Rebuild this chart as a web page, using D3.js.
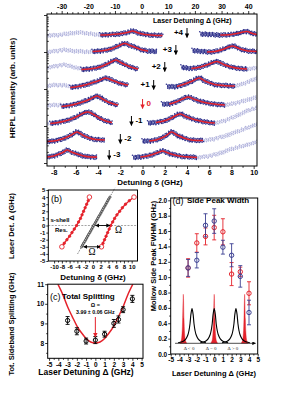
<!DOCTYPE html>
<html>
<head>
<meta charset="utf-8">
<script src="https://cdn.jsdelivr.net/npm/d3@7"></script>
<style>
  body { margin: 0; background: #fff; }
</style>
</head>
<body>
<svg id="fig" width="307" height="398"></svg>
<script>
// ---------- panel (a): HRPL spectra, one row per laser detuning ----------
var rowDet = [4, 3, 2, 1, 0, -1, -2, -3];
var rowLabels = ["+4", "+3", "+2", "+1", "0", "-1", "-2", "-3"];
var rowOffset = [130, 113, 96, 78, 59, 42, 24, 8];

// [detuning delta (GHz), intensity above row offset (arb.)]
var lightLeft = [
  [[-8.6, 0.5], [-7.6, 1], [-6.6, 2.5], [-5.6, 3.5], [-4.6, 2], [-3.8, 1]],
  [[-8.6, 1], [-7.8, 2], [-7, 3], [-6.2, 2], [-5.4, 1.5], [-4.5, 1]],
  [[-8.6, 2], [-7.8, 4], [-7, 5], [-6.2, 3], [-5.5, 1]],
  [[-8.6, 2], [-7.8, 3], [-7, 2.5], [-6.5, 2]],
  [[-8.6, 1.5], [-7.9, 2], [-7.3, 2]],
  [[-8.6, 0.5], [-8.3, 0.5]],
  [],
  []
];
var darkLeft = [
  [[-3.8, 1], [-3.0, 1.3], [-2.2, 2], [-1.6, 3], [-1.2, 4], [-0.9, 5], [-0.5, 3.5], [0, 2], [0.5, 1.2], [1.0, 0.8], [1.8, 0.5]],
  [[-4.5, 1.5], [-3.8, 2], [-3.2, 3], [-2.6, 5], [-2.1, 7.5], [-1.6, 9.5], [-1.1, 7.5], [-0.5, 5], [0, 3], [0.5, 2], [1.3, 1.5]],
  [[-5.5, 0.5], [-4.8, 1], [-4.2, 2], [-3.6, 4], [-3.0, 7], [-2.4, 10], [-1.9, 7], [-1.3, 4], [-0.8, 2], [-0.4, 1]],
  [[-6.5, 0.5], [-5.8, 1.5], [-5.2, 3], [-4.6, 5], [-3.9, 7.5], [-3.3, 10], [-2.7, 7.5], [-2.1, 5], [-1.6, 3.5], [-1.3, 3]],
  [[-7.3, 0.5], [-6.6, 1.5], [-6, 3], [-5.4, 5], [-4.7, 8], [-4.1, 11], [-3.6, 8], [-3.1, 5], [-2.6, 3], [-2.2, 2]],
  [[-8.3, 0.5], [-7.6, 1.5], [-7, 3], [-6.4, 5], [-5.8, 8], [-5.3, 11], [-4.9, 12], [-4.4, 9.5], [-3.9, 6], [-3.3, 3], [-2.75, 1.5]],
  [[-8.6, 0.5], [-8, 1], [-7.4, 2.5], [-6.9, 4.5], [-6.4, 7], [-5.9, 10], [-5.4, 7], [-4.8, 4], [-4.2, 2.5], [-3.4, 2]],
  [[-8.6, 1], [-8, 2], [-7.5, 4], [-7.1, 6], [-6.8, 8], [-6.4, 6], [-5.9, 4], [-5.3, 2], [-4.7, 1], [-4.1, 1]]
];
var darkRight = [
  [[5.2, 2], [6, 1.5], [7, 1], [8, 1.5], [8.7, 3], [9.4, 4.5], [9.9, 2.5], [10.3, 1.5]],
  [[4.5, 2.5], [5.3, 1.5], [5.8, 1], [6.5, 1.5], [7.2, 3.5], [8.1, 7], [8.8, 4], [9.5, 2], [10.3, 1.5]],
  [[3.5, 3], [4.4, 1.5], [5.2, 3], [5.9, 5.5], [6.7, 8.5], [7.3, 5.5], [8, 3], [8.7, 1.5], [9.4, 1]],
  [[2.2, 1.5], [3.1, 1.5], [3.8, 4], [4.5, 7], [5.1, 10], [5.7, 6.5], [6.5, 3.5], [7.3, 2.5], [8.3, 2]],
  [[1.75, 3], [2.4, 3], [3.0, 5], [3.6, 8], [4.1, 10], [4.7, 7.5], [5.4, 5], [6.1, 3.5], [6.8, 2.5], [7.4, 2]],
  [[0.5, 1], [1.2, 1.5], [1.9, 3], [2.5, 5.5], [3.0, 8.5], [3.4, 10], [3.9, 7.5], [4.5, 5], [5.2, 3], [5.9, 1.5], [6.5, 1]],
  [[0, 1], [0.6, 1], [1.2, 2], [1.8, 4.5], [2.2, 7], [2.6, 10], [3.1, 7], [3.7, 4], [4.4, 2], [5.45, 1.5]],
  [[-0.85, 0.5], [-0.2, 1], [0.4, 2], [0.9, 3.5], [1.4, 5.5], [1.8, 7], [2.3, 5], [2.9, 3], [3.6, 1.5], [4.3, 1], [4.9, 0.5]]
];
var lightRight = [
  [],
  [],
  [[9.4, 1], [10.3, 2]],
  [[8.3, 2], [9, 4], [9.7, 7], [10.3, 10]],
  [[7.4, 2], [8.4, 4], [9.4, 7], [10.3, 10]],
  [[6.5, 1], [7.3, 3], [8, 6], [8.8, 10], [9.6, 14], [10.3, 16]],
  [[5.45, 1.5], [6.4, 3], [7.4, 6], [8.4, 10], [9.4, 14], [10.3, 18]],
  [[4.9, 0.5], [6, 2], [7, 5], [8, 9], [9, 12], [10.3, 16]]
];
// delta window covered by each red fit
var fitLeft = [[-3.8, 1.8], [-4.5, 0.5], [-5.5, -0.4], [-6.5, -1.3], [-7.3, -2.2], [-8.3, -2.75], [-8.6, -3.4], [-8.6, -4.1]];
var fitRight = [[7, 10.3], [5.8, 10.3], [4.4, 9.4], [3.1, 8.3], [2.4, 7.4], [1.2, 6.5], [0.6, 5.45], [-0.2, 4.9]];

var aBottomTicks = [-8, -6, -4, -2, 0, 2, 4, 6, 8, 10];
var aBottomMinor = [-7, -5, -3, -1, 1, 3, 5, 7, 9];
var aTopTicks = [-30, -20, -10, 0, 10, 20, 30, 40];

// ---------- panel (b): peak positions ----------
var bDet = [-3, -2.5, -2, -1.5, -1, -0.5, 0, 0.5, 1, 1.5, 2, 2.5, 3, 3.5, 4];
var bLeft = [-8.0, -7.4, -6.7, -6.0, -5.4, -4.8, -4.2, -3.7, -3.2, -2.8, -2.4, -2.0, -1.6, -1.2, -0.9];
var bRight = [2.2, 2.6, 3.0, 3.4, 3.8, 4.2, 4.6, 5.1, 5.6, 6.2, 6.9, 7.6, 8.4, 9.4, 10.6];
var bLaserDet = [-3, -2.75, -2.5, -2.25, -2, -1.75, -1.5, -1.25, -1, -0.75, -0.5, -0.25, 0, 0.25, 0.5,
  0.75, 1, 1.25, 1.5, 1.75, 2, 2.25, 2.5, 2.75, 3, 3.25, 3.5, 3.75, 4];
var bLaserPos = [-2.9, -2.65, -2.4, -2.1, -1.85, -1.6, -1.35, -1.1, -0.8, -0.55, -0.3, -0.05, 0.2, 0.5, 0.75,
  1.0, 1.25, 1.5, 1.8, 2.05, 2.3, 2.55, 2.8, 3.1, 3.35, 3.6, 3.85, 4.1, 4.4];
var bGuide = [[-3.95, -4], [5.7, 5.3]];
var bXTicks = [-10, -8, -6, -4, -2, 0, 2, 4, 6, 8, 10];
var bYTicks = [-5, -4, -3, -2, -1, 0, 1, 2, 3, 4, 5];

// ---------- panel (c): total splitting ----------
var cDet = [-3, -2, -1, 0, 1, 2, 2.5, 3, 4];
var cSplit = [9.15, 8.6, 8.1, 8.15, 8.45, 9.0, 9.2, 9.7, 10.25];
var cErr = [0.2, 0.18, 0.15, 0.18, 0.15, 0.2, 0.18, 0.15, 0.18];
var cFitDet = [-4.05, -3.5, -3, -2.5, -2, -1.5, -1, -0.5, 0, 0.5, 1, 1.5, 2, 2.5, 3, 3.5, 4.05];
var cFitVal = [11.0, 10.45, 9.85, 9.35, 8.88, 8.52, 8.23, 8.05, 8.0, 8.05, 8.23, 8.52, 8.88, 9.35, 9.85, 10.45, 11.0];
var cXTicks = [-5, -4, -3, -2, -1, 0, 1, 2, 3, 4, 5];
var cYTicks = [8, 9, 10, 11];

// ---------- panel (d): side peak width ----------
var dDet = [-3, -2, -1, 0, 1, 2, 3, 4];
var dBlue = [1.12, 1.22, 1.675, 1.73, 1.39, 1.285, 1.01, 0.54];
var dBlueErr = [0.11, 0.1, 0.15, 0.16, 0.09, 0.15, 0.14, 0.16];
var dRed = [1.12, 1.445, 1.53, 1.645, 1.59, 1.04, 1.07, 0.79];
var dRedErr = [0.12, 0.12, 0.11, 0.16, 0.17, 0.15, 0.06, 0.15];
var dYTicks = [0, 0.2, 0.4, 0.6, 0.8, 1.0, 1.2, 1.4, 1.6, 1.8, 2.0];
// inset sketch: peak centres and line shapes
var insetBlackPos = [-2.55, 0, 2.5];
var insetRedPos = [-3.55, 0, 3.5];
var insetLabels = ["\u0394 < 0", "\u0394 = 0", "\u0394 > 0"];
var blackShapeX = [-1.6, -1.0, -0.7, -0.46, -0.35, -0.23, -0.12, 0, 0.12, 0.23, 0.35, 0.46, 0.7, 1.0, 1.6];
var blackShapeY = [0.01, 0.04, 0.09, 0.18, 0.26, 0.4, 0.6, 0.71, 0.6, 0.4, 0.26, 0.18, 0.09, 0.04, 0.01];
var redShapeX = [-0.4, -0.25, -0.15, -0.08, 0, 0.08, 0.15, 0.25, 0.4];
var redShapeY = [0, 0.05, 0.2, 0.5, 1, 0.5, 0.2, 0.05, 0];

var FONT = "'Liberation Sans', Arial, sans-serif";
var SERIF = "'Liberation Serif', 'DejaVu Serif', serif";
var NAVY = "#2f318c", LAV = "#b0b2dc", RED = "#e4222b", BLUE = "#3c4092";

var svg = d3.select("#fig");
var defs = svg.append("defs");

var addMarker = function (id, color) {
  defs.append("marker")
    .attr("id", id)
    .attr("viewBox", "0 0 10 10")
    .attr("refX", 9).attr("refY", 5)
    .attr("markerWidth", 4.5).attr("markerHeight", 4.5)
    .attr("orient", "auto-start-reverse")
    .append("path")
    .attr("d", "M0,0L10,5L0,10z")
    .attr("fill", color);
};
addMarker("ahK", "#000");
addMarker("ahR", RED);

var label = function (txt, x, y, opts) {
  opts = opts || {};
  var t = svg.append("text")
    .text(txt)
    .attr("x", x).attr("y", y)
    .attr("font-family", opts.family || FONT)
    .attr("font-size", opts.size || 8)
    .attr("font-weight", opts.weight || "bold")
    .attr("fill", opts.color || "#000")
    .attr("text-anchor", opts.anchor || "start");
  if (opts.rotate) {
    t.attr("x", 0).attr("y", 0)
      .attr("transform", "translate(" + x + "," + y + ") rotate(-90)");
  }
  return t;
};

var addAxis = function (axis, x, y, fs) {
  var g = svg.append("g")
    .attr("transform", "translate(" + x + "," + y + ")")
    .call(axis);
  g.select(".domain").remove();
  g.selectAll(".tick line").attr("stroke", "#000").attr("stroke-width", 0.8);
  g.selectAll(".tick text")
    .attr("font-size", fs || 6.5)
    .attr("font-weight", "bold")
    .attr("font-family", FONT)
    .attr("fill", "#000");
  return g;
};

var frame = function (x0, y0, x1, y1) {
  svg.append("rect")
    .attr("x", x0).attr("y", y0)
    .attr("width", x1 - x0).attr("height", y1 - y0)
    .attr("fill", "none").attr("stroke", "#000").attr("stroke-width", 1);
};

var plain = function (d) { return String(d); };

// ================= panel (a) =================
var xA = d3.scaleLinear().domain([-8.6, 10.3]).range([47, 257]);
var xTop = d3.scaleLinear().domain([-35.5, 43.3]).range([47, 257]);
var yA = d3.scaleLinear().domain([0, 152]).range([166, 14]);
var yLog = d3.scaleLog().domain([0.83, 10650]).range([166, 14]);

defs.append("clipPath").attr("id", "clipA")
  .append("rect").attr("x", 47).attr("y", 14).attr("width", 210).attr("height", 152);

var gA = svg.append("g").attr("clip-path", "url(#clipA)");

// draw the measured trace as a band of small dots (fixed golden-ratio spread, no randomness)
var dotBand = function (d, color, step, r, halfWidth) {
  var p = gA.append("path").attr("d", d).attr("fill", "none");
  var node = p.node(), len = node.getTotalLength();
  var k = 0;
  for (var s = 0; s <= len; s += step) {
    var pt = node.getPointAtLength(s);
    var fy = (k * 0.6180339887) % 1, fx = (k * 0.7548776662) % 1;
    gA.append("circle")
      .attr("cx", pt.x + (fx - 0.5) * 1.2)
      .attr("cy", pt.y + (fy - 0.5) * 2 * halfWidth)
      .attr("r", r)
      .attr("fill", color);
    k++;
  }
  p.remove();
};

rowDet.forEach(function (det, i) {
  var off = rowOffset[i];
  var line = d3.line()
    .x(function (d) { return xA(d[0]); })
    .y(function (d) { return yA(off + d[1]); })
    .curve(d3.curveCatmullRom);

  [lightLeft[i], lightRight[i]].forEach(function (seg) {
    if (seg.length < 2) return;
    dotBand(line(seg), LAV, 0.5, 0.7, 2.0);
  });

  [darkLeft[i], darkRight[i]].forEach(function (seg) {
    dotBand(line(seg), NAVY, 0.35, 0.8, 2.3);
  });

  [[darkLeft[i], fitLeft[i]], [darkRight[i], fitRight[i]]].forEach(function (p) {
    var pts = p[0].filter(function (d) {
      return d[0] >= p[1][0] - 1e-6 && d[0] <= p[1][1] + 1e-6;
    });
    gA.append("path").attr("d", line(pts))
      .attr("fill", "none").attr("stroke", RED).attr("stroke-width", 1.6);
  });

  // laser position arrow and label
  var col = det === 0 ? RED : "#000";
  var ax = xA(det);
  svg.append("line")
    .attr("x1", ax).attr("x2", ax)
    .attr("y1", yA(off + 8)).attr("y2", yA(off - 1.5))
    .attr("stroke", col).attr("stroke-width", 1)
    .attr("marker-end", det === 0 ? "url(#ahR)" : "url(#ahK)");
  label(rowLabels[i], det > 0 ? ax - 4 : ax + 4, yA(off + 4) + 3, {
    size: 8, color: col, anchor: det > 0 ? "end" : "start"
  });
});

frame(47, 14, 257, 166);

addAxis(d3.axisBottom(xA).tickValues(aBottomTicks).tickSize(3).tickPadding(1.5).tickFormat(plain), 0, 166, 7);
addAxis(d3.axisBottom(xA).tickValues(aBottomMinor).tickSize(1.8).tickFormat(""), 0, 166);
addAxis(d3.axisTop(xTop).tickValues(aTopTicks).tickSize(3).tickPadding(2.5).tickFormat(plain), 0, 14, 7);
var topMinor = [];
for (var t = -34; t <= 42; t += 2) { if (t % 10 !== 0) topMinor.push(t); }
addAxis(d3.axisTop(xTop).tickValues(topMinor).tickSize(1.8).tickFormat(""), 0, 14);

var logMajor = [1, 10, 100, 1000, 10000];
var logMinor = [];
[1, 10, 100, 1000].forEach(function (dec) {
  for (var k = 2; k <= 9; k++) logMinor.push(k * dec);
});
addAxis(d3.axisLeft(yLog).tickValues(logMajor).tickSize(3).tickFormat(""), 47, 0);
addAxis(d3.axisLeft(yLog).tickValues(logMinor).tickSize(-1.8).tickFormat(""), 47, 0);

label("Laser Detuning \u0394 (GHz)", 153, 23, { size: 7 });
label("Detuning \u03b4 (GHz)", 150, 185, { size: 8, anchor: "middle" });
label("HRPL Intensity (arb. units)", 14.5, 88, { size: 8, anchor: "middle", rotate: true });

// ================= panel (b) =================
var xB = d3.scaleLinear().domain([-11.5, 11.5]).range([48.3, 137.5]);
var yB = d3.scaleLinear().domain([-5, 5]).range([261, 190]);

svg.append("line")
  .attr("x1", xB(-11.5)).attr("x2", xB(11.5))
  .attr("y1", yB(0)).attr("y2", yB(0))
  .attr("stroke", "#9a9a9a").attr("stroke-width", 0.9).attr("stroke-dasharray", "2 1.3");

svg.append("line")
  .attr("x1", xB(bGuide[0][0])).attr("y1", yB(bGuide[0][1]))
  .attr("x2", xB(bGuide[1][0])).attr("y2", yB(bGuide[1][1]))
  .attr("stroke", "#000").attr("stroke-width", 0.5).attr("stroke-dasharray", "1.5 1.2");

svg.selectAll(".laserPt")
  .data(bLaserDet)
  .enter()
  .append("circle")
  .attr("cx", function (d, i) { return xB(bLaserPos[i]); })
  .attr("cy", function (d) { return yB(d); })
  .attr("r", 1.15)
  .attr("fill", "#bbb").attr("stroke", "#111").attr("stroke-width", 0.55);

[bLeft, bRight].forEach(function (pos) {
  var pts = bDet.map(function (d, i) { return [pos[i], d]; });
  svg.append("path")
    .attr("d", d3.line().x(function (d) { return xB(d[0]); }).y(function (d) { return yB(d[1]); })(pts))
    .attr("fill", "none").attr("stroke", RED).attr("stroke-width", 1.3);
  svg.selectAll(null).data(pts).enter().append("circle")
    .attr("cx", function (d) { return xB(d[0]); })
    .attr("cy", function (d) { return yB(d[1]); })
    .attr("r", function (d, i) { return (i === 0 || i === pts.length - 1) ? 2.3 : 1.2; })
    .attr("fill", function (d, i) { return (i === 0 || i === pts.length - 1) ? "#fff" : RED; })
    .attr("stroke", RED).attr("stroke-width", 0.9);
});

// Rabi splitting arrows
svg.append("line")
  .attr("x1", xB(0.7)).attr("x2", xB(4.4)).attr("y1", yB(0)).attr("y2", yB(0))
  .attr("stroke", "#000").attr("stroke-width", 0.9)
  .attr("marker-start", "url(#ahK)").attr("marker-end", "url(#ahK)");
svg.append("line")
  .attr("x1", xB(-2.4)).attr("x2", xB(1.9)).attr("y1", yB(-3)).attr("y2", yB(-3))
  .attr("stroke", "#000").attr("stroke-width", 0.9)
  .attr("marker-start", "url(#ahK)").attr("marker-end", "url(#ahK)");
label("\u03a9", xB(6.6), yB(-1.05), { family: SERIF, size: 9.5, weight: "normal", anchor: "middle" });
label("\u03a9", xB(-0.2), yB(-4.2), { family: SERIF, size: 9.5, weight: "normal", anchor: "middle" });

frame(48.3, 190, 137.5, 261);
addAxis(d3.axisLeft(yB).tickValues(bYTicks).tickSize(2).tickPadding(1).tickFormat(plain), 48.3, 0, 6);
var bXMinor = bXTicks.slice(0, -1).map(function (d) { return d + 1; });
addAxis(d3.axisBottom(xB).tickValues(bXTicks).tickSize(2.5).tickPadding(1.2).tickFormat(plain), 0, 261, 6);
addAxis(d3.axisBottom(xB).tickValues(bXMinor).tickSize(1.5).tickFormat(""), 0, 261);

label("(b)", 51, 201.5, { size: 9, weight: "normal" });
label("s-shell", 50.5, 221.8, { size: 6 });
label("Res.", 55, 231.5, { size: 6 });
label("Detuning \u03b4 (GHz)", 93, 279.5, { size: 8, anchor: "middle" });
label("Laser Det. \u0394 (GHz)", 13.5, 226, { size: 7.5, anchor: "middle", rotate: true });

// ================= panel (c) =================
var xC = d3.scaleLinear().domain([-5.15, 5.15]).range([47.7, 143]);
var yC = d3.scaleLinear().domain([7.22, 11]).range([358.3, 284.2]);

defs.append("clipPath").attr("id", "clipC")
  .append("rect").attr("x", 47.7).attr("y", 284.2).attr("width", 95.3).attr("height", 74.1);

svg.append("path")
  .attr("clip-path", "url(#clipC)")
  .attr("d", d3.line()
    .x(function (d, i) { return xC(cFitDet[i]); })
    .y(function (d) { return yC(d); })
    .curve(d3.curveNatural)(cFitVal))
  .attr("fill", "none").attr("stroke", RED).attr("stroke-width", 1.5);

var errorBars = function (xs, ys, xv, yv, ev, color, r) {
  var g = svg.append("g");
  xv.forEach(function (x, i) {
    var px = xs(x), top = ys(yv[i] + ev[i]), bot = ys(yv[i] - ev[i]);
    g.append("line").attr("x1", px).attr("x2", px).attr("y1", top).attr("y2", bot)
      .attr("stroke", color).attr("stroke-width", 0.9);
    [top, bot].forEach(function (yy) {
      g.append("line").attr("x1", px - 2).attr("x2", px + 2).attr("y1", yy).attr("y2", yy)
        .attr("stroke", color).attr("stroke-width", 0.9);
    });
    g.append("circle").attr("cx", px).attr("cy", ys(yv[i])).attr("r", r)
      .attr("fill", "none").attr("stroke", color).attr("stroke-width", 1);
  });
};
errorBars(xC, yC, cDet, cSplit, cErr, "#000", 2.1);

svg.append("line")
  .attr("x1", xC(0)).attr("x2", xC(0)).attr("y1", 317).attr("y2", 337)
  .attr("stroke", RED).attr("stroke-width", 1)
  .attr("marker-end", "url(#ahR)");
label("\u03a9 =", xC(0), 307, { size: 5.5, anchor: "middle" });
label("3.99 \u00b1 0.06 GHz", xC(0), 313.5, { size: 5.3, anchor: "middle" });

frame(47.7, 284.2, 143, 358.3);
var cYMinor = [7.5, 8.5, 9.5, 10.5];
var cXMinor = cXTicks.slice(0, -1).map(function (d) { return d + 0.5; });
addAxis(d3.axisLeft(yC).tickValues(cYTicks).tickSize(2.5).tickPadding(1.2).tickFormat(plain), 47.7, 0, 6.5);
addAxis(d3.axisLeft(yC).tickValues(cYMinor).tickSize(1.5).tickFormat(""), 47.7, 0);
addAxis(d3.axisBottom(xC).tickValues(cXTicks).tickSize(2.5).tickPadding(1.2).tickFormat(plain), 0, 358.3, 6.5);
addAxis(d3.axisBottom(xC).tickValues(cXMinor).tickSize(1.5).tickFormat(""), 0, 358.3);

label("(c)", 50, 299.5, { size: 9, weight: "normal" });
label("Total Splitting", 62, 298.5, { size: 8 });
label("Laser Detuning \u0394 (GHz)", 86, 374.5, { size: 8.5, anchor: "middle" });
label("Tot. Sideband Splitting (GHz)", 13.5, 324, { size: 7.5, anchor: "middle", rotate: true });

// ================= panel (d) =================
var xD = d3.scaleLinear().domain([-5, 5]).range([170.7, 257.7]);
var yD = d3.scaleLinear().domain([0, 2.03]).range([354, 198]);
var yIn = d3.scaleLinear().domain([0, 1]).range([343.3, 294.3]);

// inset sketch of laser line (red) and side peaks (black)
insetRedPos.forEach(function (c) {
  svg.append("path")
    .attr("d", d3.area()
      .x(function (d, i) { return xD(c + redShapeX[i]); })
      .y0(yIn(0))
      .y1(function (d) { return yIn(d); })
      .curve(d3.curveCatmullRom)(redShapeY))
    .attr("fill", RED).attr("stroke", RED).attr("stroke-width", 0.4);
});
insetBlackPos.forEach(function (c) {
  svg.append("path")
    .attr("d", d3.line()
      .x(function (d, i) { return xD(c + blackShapeX[i]); })
      .y(function (d) { return yIn(d); })
      .curve(d3.curveCatmullRom)(blackShapeY))
    .attr("fill", "none").attr("stroke", "#000").attr("stroke-width", 1.1);
});
svg.append("line")
  .attr("x1", xD(-4.5)).attr("x2", xD(4.75)).attr("y1", yIn(0)).attr("y2", yIn(0))
  .attr("stroke", "#222").attr("stroke-width", 0.8)
  .attr("marker-end", "url(#ahK)");
insetLabels.forEach(function (txt, i) {
  label(txt, xD(insetBlackPos[i]) - 3, 350, { family: SERIF, size: 5, weight: "normal", anchor: "middle", color: "#333" });
});

errorBars(xD, yD, dDet, dRed, dRedErr, RED, 2.2);
errorBars(xD, yD, dDet, dBlue, dBlueErr, BLUE, 2.2);

frame(170.7, 198, 257.7, 354);
var dYMinor = dYTicks.slice(0, -1).map(function (d) { return d + 0.1; });
var dXMinor = cXTicks.slice(0, -1).map(function (d) { return d + 0.5; });
addAxis(d3.axisLeft(yD).tickValues(dYTicks).tickSize(2.5).tickPadding(1).tickFormat(d3.format(".1f")), 170.7, 0, 6.5);
addAxis(d3.axisLeft(yD).tickValues(dYMinor).tickSize(1.5).tickFormat(""), 170.7, 0);
addAxis(d3.axisBottom(xD).tickValues(cXTicks).tickSize(2.5).tickPadding(1.2).tickFormat(plain), 0, 354, 6.5);
addAxis(d3.axisBottom(xD).tickValues(dXMinor).tickSize(1.5).tickFormat(""), 0, 354);

label("(d)", 172.5, 203.5, { size: 9, weight: "normal" });
label("Side Peak Width", 187, 203, { size: 8 });
label("Laser Detuning \u0394 (GHz)", 214, 375.5, { size: 7.5, anchor: "middle" });
label("Mollow Side Peak FWHM (GHz)", 156, 256, { size: 7.5, anchor: "middle", rotate: true });
</script>
</body>
</html>
